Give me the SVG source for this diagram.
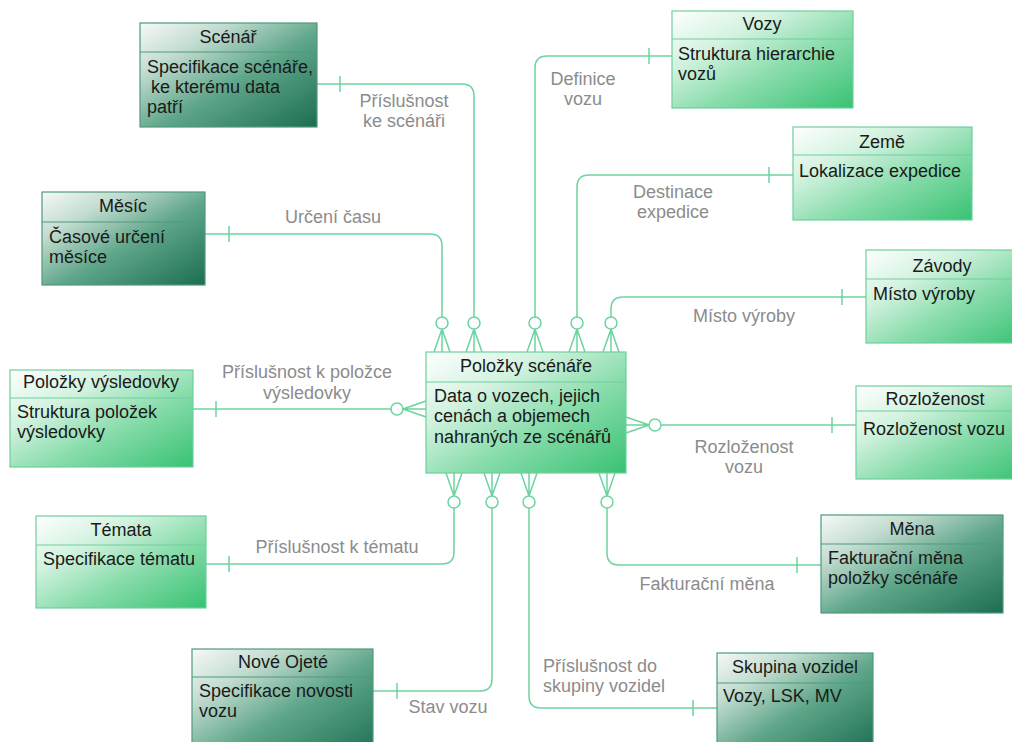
<svg xmlns="http://www.w3.org/2000/svg" width="1012" height="742" viewBox="0 0 1012 742">
<defs>
<linearGradient id="gLight" x1="0" y1="0" x2="1" y2="1">
<stop offset="0" stop-color="#ffffff"/>
<stop offset="0.3" stop-color="#d2f2df"/>
<stop offset="0.6" stop-color="#88dcab"/>
<stop offset="1" stop-color="#38c273"/>
</linearGradient>
<linearGradient id="gDark" x1="0" y1="0" x2="1" y2="1">
<stop offset="0" stop-color="#f6f9f7"/>
<stop offset="0.25" stop-color="#c2dcd0"/>
<stop offset="0.55" stop-color="#5fa68a"/>
<stop offset="1" stop-color="#1c6e50"/>
</linearGradient>
<style>
.light{fill:url(#gLight);stroke:#6fcf9f;stroke-width:1.2}
.dark{fill:url(#gDark);stroke:#4f9a7c;stroke-width:1.2}
.sepL{stroke:#6fcf9f;stroke-width:1}
.sepD{stroke:#4f9a7c;stroke-width:1}
.t{font-family:"Liberation Sans",Arial,sans-serif;font-size:18px;fill:#1a1a1a}
.tc{text-anchor:middle}
.lbl{font-family:"Liberation Sans",Arial,sans-serif;font-size:18px;fill:#8c8c8c;text-anchor:middle}
.c{fill:none;stroke:#6dd3a0;stroke-width:1.5}
.o{fill:#ffffff;stroke:#6dd3a0;stroke-width:1.5}
</style>
</defs>
<rect width="1012" height="742" fill="#ffffff"/>

<g id="connectors">
<!-- Scénář -->
<path class="c" d="M317,84 H462 Q474,84 474,96 V317 M340,76 V92 M474,329 L466,352 M474,329 L474,352 M474,329 L482,352"/>
<circle class="o" cx="474" cy="323" r="6"/>
<!-- Měsíc -->
<path class="c" d="M205,234 H430 Q442,234 442,246 V317 M229,226 V242 M442,329 L434,352 M442,329 L442,352 M442,329 L450,352"/>
<circle class="o" cx="442" cy="323" r="6"/>
<!-- Vozy -->
<path class="c" d="M672,56 H547 Q535,56 535,68 V317 M649,48 V64 M535,329 L527,352 M535,329 L535,352 M535,329 L543,352"/>
<circle class="o" cx="535" cy="323" r="6"/>
<!-- Země -->
<path class="c" d="M793,175 H589 Q577,175 577,187 V317 M769,167 V183 M577,329 L569,352 M577,329 L577,352 M577,329 L585,352"/>
<circle class="o" cx="577" cy="323" r="6"/>
<!-- Závody -->
<path class="c" d="M866,297 H623 Q611,297 611,309 V317 M842,289 V305 M611,329 L603,352 M611,329 L611,352 M611,329 L619,352"/>
<circle class="o" cx="611" cy="323" r="6"/>
<!-- Položky výsledovky -->
<path class="c" d="M193,409 H391 M216,401 V417 M403,409 L426,401 M403,409 L426,409 M403,409 L426,417"/>
<circle class="o" cx="397" cy="409" r="6"/>
<!-- Rozloženost -->
<path class="c" d="M856,425 H661 M832,417 V433 M649,425 L626,417 M649,425 L626,425 M649,425 L626,433"/>
<circle class="o" cx="655" cy="425" r="6"/>
<!-- Témata -->
<path class="c" d="M206,564 H442 Q454,564 454,552 V508 M229,556 V572 M454,496 L446,473 M454,496 L454,473 M454,496 L462,473"/>
<circle class="o" cx="454" cy="502" r="6"/>
<!-- Nové Ojeté -->
<path class="c" d="M373,691 H480 Q492,691 492,679 V508 M397,683 V699 M492,496 L484,473 M492,496 L492,473 M492,496 L500,473"/>
<circle class="o" cx="492" cy="502" r="6"/>
<!-- Skupina vozidel -->
<path class="c" d="M717,708 H541 Q529,708 529,696 V508 M693,700 V716 M529,496 L521,473 M529,496 L529,473 M529,496 L537,473"/>
<circle class="o" cx="529" cy="502" r="6"/>
<!-- Měna -->
<path class="c" d="M821,565 H619 Q607,565 607,553 V508 M797,557 V573 M607,496 L599,473 M607,496 L607,473 M607,496 L615,473"/>
<circle class="o" cx="607" cy="502" r="6"/>
</g>

<g id="labels">
<text class="lbl" x="404" y="107">Příslušnost</text>
<text class="lbl" x="404" y="127">ke scénáři</text>
<text class="lbl" x="333" y="223">Určení času</text>
<text class="lbl" x="307" y="378">Příslušnost k položce</text>
<text class="lbl" x="307" y="399">výsledovky</text>
<text class="lbl" x="583" y="85">Definice</text>
<text class="lbl" x="583" y="105">vozu</text>
<text class="lbl" x="673" y="198">Destinace</text>
<text class="lbl" x="673" y="218">expedice</text>
<text class="lbl" x="744" y="322">Místo výroby</text>
<text class="lbl" x="744" y="453">Rozloženost</text>
<text class="lbl" x="744" y="473">vozu</text>
<text class="lbl" x="337" y="553">Příslušnost k tématu</text>
<text class="lbl" x="448" y="713">Stav vozu</text>
<text class="lbl" x="707" y="590">Fakturační měna</text>
<text class="lbl" x="543" y="672" style="text-anchor:start">Příslušnost do</text>
<text class="lbl" x="543" y="692" style="text-anchor:start">skupiny vozidel</text>
</g>

<g id="scenar">
<rect class="dark" x="140" y="23" width="177" height="104"/>
<line class="sepD" x1="140" y1="52" x2="317" y2="52"/>
<text class="t tc" x="228" y="43">Scénář</text>
<text class="t" x="147" y="73">Specifikace scénáře,</text>
<text class="t" x="151" y="93">ke kterému data</text>
<text class="t" x="147" y="113">patří</text>
</g>

<g id="mesic">
<rect class="dark" x="42" y="192" width="163" height="93"/>
<line class="sepD" x1="42" y1="222" x2="205" y2="222"/>
<text class="t tc" x="123" y="212">Měsíc</text>
<text class="t" x="49" y="243">Časové určení</text>
<text class="t" x="49" y="263">měsíce</text>
</g>

<g id="polozky-vysledovky">
<rect class="light" x="10" y="370" width="183" height="97"/>
<line class="sepL" x1="10" y1="398" x2="193" y2="398"/>
<text class="t tc" x="101" y="388">Položky výsledovky</text>
<text class="t" x="17" y="418">Struktura položek</text>
<text class="t" x="17" y="438">výsledovky</text>
</g>

<g id="vozy">
<rect class="light" x="672" y="11" width="181" height="97"/>
<line class="sepL" x1="672" y1="39" x2="853" y2="39"/>
<text class="t tc" x="762" y="30">Vozy</text>
<text class="t" x="678" y="60">Struktura hierarchie</text>
<text class="t" x="678" y="80">vozů</text>
</g>

<g id="zeme">
<rect class="light" x="793" y="127" width="179" height="93"/>
<line class="sepL" x1="793" y1="155" x2="972" y2="155"/>
<text class="t tc" x="882" y="148">Země</text>
<text class="t" x="799" y="177">Lokalizace expedice</text>
</g>

<g id="zavody">
<rect class="light" x="866" y="250" width="160" height="93"/>
<line class="sepL" x1="866" y1="279" x2="1026" y2="279"/>
<text class="t tc" x="942" y="272">Závody</text>
<text class="t" x="873" y="300">Místo výroby</text>
</g>

<g id="rozlozenost">
<rect class="light" x="856" y="386" width="170" height="93"/>
<line class="sepL" x1="856" y1="411" x2="1026" y2="411"/>
<text class="t tc" x="935" y="405">Rozloženost</text>
<text class="t" x="863" y="435">Rozloženost vozu</text>
</g>

<g id="polozky-scenare">
<rect class="light" x="426" y="352" width="200" height="121"/>
<line class="sepL" x1="426" y1="382" x2="626" y2="382"/>
<text class="t tc" x="526" y="372">Položky scénáře</text>
<text class="t" x="434" y="402">Data o vozech, jejich</text>
<text class="t" x="434" y="422">cenách a objemech</text>
<text class="t" x="434" y="443">nahraných ze scénářů</text>
</g>

<g id="temata">
<rect class="light" x="36" y="516" width="170" height="92"/>
<line class="sepL" x1="36" y1="545" x2="206" y2="545"/>
<text class="t tc" x="121" y="536">Témata</text>
<text class="t" x="43" y="565">Specifikace tématu</text>
</g>

<g id="nove-ojete">
<rect class="dark" x="192" y="649" width="181" height="110"/>
<line class="sepD" x1="192" y1="677" x2="373" y2="677"/>
<text class="t tc" x="283" y="668">Nové Ojeté</text>
<text class="t" x="199" y="697">Specifikace novosti</text>
<text class="t" x="199" y="717">vozu</text>
</g>

<g id="mena">
<rect class="dark" x="821" y="515" width="182" height="98"/>
<line class="sepD" x1="821" y1="544" x2="1003" y2="544"/>
<text class="t tc" x="912" y="535">Měna</text>
<text class="t" x="828" y="564">Fakturační měna</text>
<text class="t" x="828" y="584">položky scénáře</text>
</g>

<g id="skupina-vozidel">
<rect class="dark" x="717" y="653" width="156" height="100"/>
<line class="sepD" x1="717" y1="683" x2="873" y2="683"/>
<text class="t tc" x="795" y="673">Skupina vozidel</text>
<text class="t" x="723" y="702">Vozy, LSK, MV</text>
</g>
</svg>
